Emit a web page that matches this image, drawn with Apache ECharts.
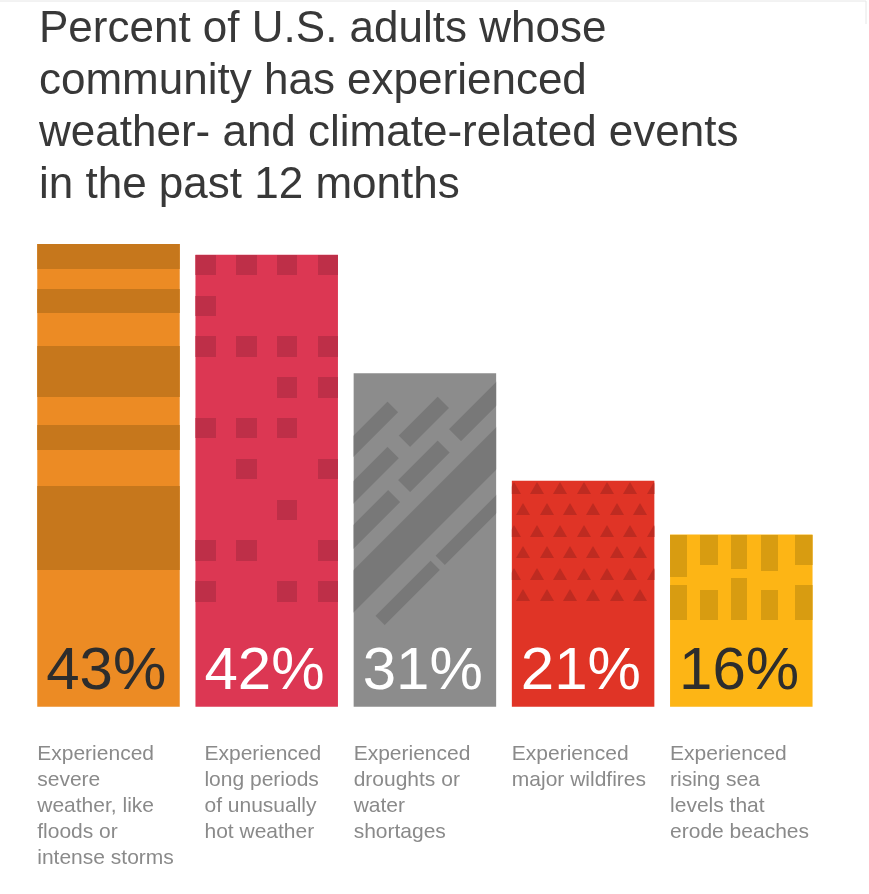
<!DOCTYPE html>
<html>
<head>
<meta charset="utf-8">
<style>
  html, body { margin: 0; padding: 0; background: #fff; }
  #chart { width: 869px; height: 894px; }
</style>
<script src="https://cdn.jsdelivr.net/npm/echarts@6/dist/echarts.min.js"></script>
</head>
<body>
<div id="chart"></div>
<script>
const titleText = 'Percent of U.S. adults whose\ncommunity has experienced\nweather- and climate-related events\nin the past 12 months';

const categories = [
    'Experienced\nsevere\nweather, like\nfloods or\nintense storms',
    'Experienced\nlong periods\nof unusually\nhot weather',
    'Experienced\ndroughts or\nwater\nshortages',
    'Experienced\nmajor wildfires',
    'Experienced\nrising sea\nlevels that\nerode beaches'
];
const values = [43, 42, 31, 21, 16];

const barColors = ['#ec8b24', '#dc3753', '#8c8c8c', '#e03426', '#fdb515'];
const patternColors = ['#c6771c', '#be2f48', '#787878', '#be2b21', '#d89c11'];
const labelColors = ['#2d2d2d', '#ffffff', '#ffffff', '#ffffff', '#2d2d2d'];

const FONT = '"Liberation Sans", Arial, Helvetica, sans-serif';
const BAR_WIDTH = 142.5;
const TILE = 1000;

// texture layouts, relative to each bar's top-left corner
// bar 1: horizontal bands [y0, y1]
const stripeBands = [[0, 25], [45, 69], [102, 153], [181, 206], [242, 326]];
// bar 2: square grid, 1 = square drawn
const squareGrid = [
    [1, 1, 1, 1], [1, 0, 0, 0], [1, 1, 1, 1], [0, 0, 1, 1], [1, 1, 1, 0],
    [0, 1, 0, 1], [0, 0, 1, 0], [1, 1, 0, 1], [1, 0, 1, 1]
];
// bar 3: diagonal dashes [s0, s1, d0, d1] with s = x + y, d = x - y
const diagDashes = [
    [63, 84, -400, 5],
    [107, 130, -400, -40], [107, 130, -18, 61],
    [151, 175, -400, -83], [151, 175, -62, 17], [151, 175, 39, 400],
    [197, 239, -400, 400],
    [265, 283, -221, -110], [265, 283, -101, 400]
];
// bar 4: triangle rows (x phase per alternate row)
const triPhase = [25.3, 11.6];
// bar 5: vertical blocks [x0, x1, y0, y1]
const blocks = [
    [0, 16.7, 0, 42.3], [30.3, 47.7, 0, 30.3], [60.7, 77.3, 0, 34.3], [91, 108.3, 0, 36.7], [125.3, 143, 0, 30.3],
    [0, 16.7, 50, 85.7], [30.3, 47.7, 55.7, 85.7], [60.7, 77.3, 43.3, 85.7], [91, 108.3, 55.7, 85.7], [125.3, 143, 50, 85.7]
];

function rowDash(segs, W) {
    const merged = [];
    segs.sort((a, b) => a[0] - b[0]).forEach(s => {
        const last = merged[merged.length - 1];
        if (last && s[0] <= last[1]) last[1] = Math.max(last[1], s[1]);
        else merged.push([s[0], s[1]]);
    });
    const arr = [0];
    let cur = 0;
    merged.forEach(s => {
        arr.push(s[0] - cur, s[1] - s[0]);
        cur = s[1];
    });
    arr.push(W - cur);
    return arr;
}

// turn a list of rectangles (tile coords) into an echarts decal
function toDecal(rects, color, symbol, rotation) {
    const W = TILE, H = TILE;
    const rs = [];
    rects.forEach(r => {
        let x0 = Math.round(r[0]), x1 = Math.round(r[1]);
        const y0 = Math.max(0, Math.round(r[2])), y1 = Math.min(H, Math.round(r[3]));
        if (x1 <= x0 || y1 <= y0) return;
        const k = Math.floor(x0 / W);
        x0 -= k * W;
        x1 -= k * W;
        if (x1 > W) {
            rs.push([x0, W, y0, y1]);
            rs.push([0, x1 - W, y0, y1]);
        } else {
            rs.push([x0, x1, y0, y1]);
        }
    });
    const cuts = Array.from(new Set([0, H].concat(...rs.map(r => [r[2], r[3]])))).sort((a, b) => a - b);
    const dashY = [], dashX = [];
    let wantFilled = true;
    for (let i = 0; i < cuts.length - 1; i++) {
        const a = cuts[i], b = cuts[i + 1];
        const segs = rs.filter(r => r[2] <= a && r[3] >= b).map(r => [r[0], r[1]]);
        if (segs.length) {
            if (!wantFilled) dashY.push(0);
            dashY.push(b - a);
            dashX.push(rowDash(segs, W));
            wantFilled = false;
        } else {
            if (wantFilled) {
                dashY.push(0);
                dashX.push([0, W]);
            }
            dashY.push(b - a);
            wantFilled = true;
        }
    }
    if (!wantFilled) dashY.push(0);
    return {
        symbol: symbol,
        symbolSize: 1,
        symbolKeepAspect: false,
        color: color,
        dashArrayX: dashX,
        dashArrayY: dashY,
        rotation: rotation,
        maxTileWidth: W,
        maxTileHeight: H
    };
}

const decalBuilders = [
    (L, T, c) => toDecal(stripeBands.map(b => [L - 10, L + 160, T + b[0], T + b[1]]), c, 'rect', 0),
    (L, T, c) => {
        const rects = [];
        squareGrid.forEach((row, r) => row.forEach((on, k) => {
            if (on) rects.push([L + k * 40.7, L + k * 40.7 + 20.5, T + r * 40.8, T + r * 40.8 + 20.5]);
        }));
        return toDecal(rects, c, 'rect', 0);
    },
    (L, T, c) => {
        const r2 = Math.SQRT2;
        const rects = diagDashes.map(d => [(d[2] + L - T) / r2, (d[3] + L - T) / r2, (d[0] + L + T) / r2, (d[1] + L + T) / r2]);
        return toDecal(rects, c, 'rect', -Math.PI / 4);
    },
    (L, T, c) => {
        const rects = [];
        for (let r = 0; r < 6; r++) {
            const y0 = T + 1.2 + r * 21.5;
            for (let j = -1; j < 8; j++) {
                const cx = L + triPhase[r % 2] + j * 23.33;
                rects.push([cx - 7, cx + 7, y0, y0 + 12]);
            }
        }
        return toDecal(rects, c, 'triangle', 0);
    },
    (L, T, c) => toDecal(blocks.map(b => [L + b[0], L + b[1], T + b[2], T + b[3]]), c, 'rect', 0)
];

const chart = echarts.init(document.getElementById('chart'));

const seriesData = values.map((v, i) => ({
    value: v,
    itemStyle: { color: barColors[i] },
    label: { color: labelColors[i] }
}));

const option = {
    animation: false,
    title: {
        text: titleText,
        left: 34,
        top: -1,
        textStyle: {
            fontSize: 44,
            lineHeight: 52,
            fontWeight: 'normal',
            color: '#383838',
            fontFamily: FONT
        }
    },
    graphic: [
        { type: 'line', shape: { x1: 0, y1: 1, x2: 866, y2: 1 }, style: { stroke: '#e6e6e6', lineWidth: 1 } },
        { type: 'line', shape: { x1: 866, y1: 1, x2: 866, y2: 24 }, style: { stroke: '#e6e6e6', lineWidth: 1 } }
    ],
    grid: {
        left: 29.4,
        right: 48.6,
        top: 244,
        bottom: 187.3
    },
    xAxis: {
        type: 'category',
        data: categories.map((c, i) => i === 1 ? { value: c, textStyle: { padding: [0, 0, 0, 18] } } : c),
        axisLine: { show: false },
        axisTick: { show: false },
        axisLabel: {
            interval: 0,
            margin: 35,
            align: 'center',
            verticalAlign: 'top',
            formatter: v => v.split('\n').map(l => '{a|' + l + '}').join('\n'),
            rich: {
                a: {
                    width: BAR_WIDTH,
                    align: 'left',
                    fontSize: 21,
                    lineHeight: 26,
                    color: '#8a8a8a',
                    fontFamily: FONT
                }
            }
        }
    },
    yAxis: {
        type: 'value',
        min: 0,
        max: 43,
        show: false
    },
    series: [{
        type: 'bar',
        barWidth: BAR_WIDTH,
        data: seriesData,
        label: {
            show: true,
            position: [9, '100%'],
            align: 'left',
            verticalAlign: 'bottom',
            offset: [0, -4],
            formatter: '{c}%',
            fontSize: 60,
            fontFamily: FONT
        }
    }]
};

chart.setOption(option);

// place the textures on each bar once the layout is known
values.forEach((v, i) => {
    const p = chart.convertToPixel({ seriesIndex: 0 }, [i, v]);
    const L = p[0] - BAR_WIDTH / 2;
    const T = p[1];
    seriesData[i].itemStyle.decal = decalBuilders[i](L, T, patternColors[i]);
});
chart.setOption({ series: [{ data: seriesData }] });
</script>
</body>
</html>
